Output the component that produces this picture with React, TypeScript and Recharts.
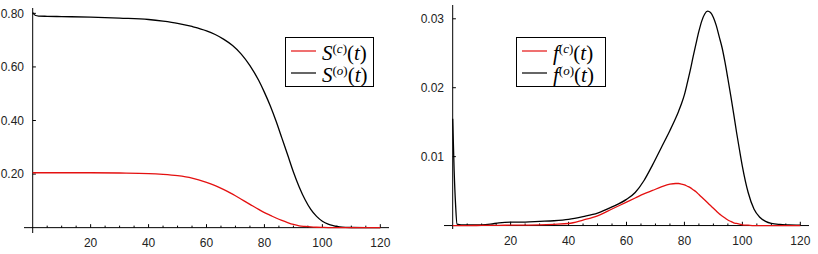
import { LineChart, Line, XAxis, YAxis, ReferenceLine, Legend } from "recharts";

// survival curves S(c)(t), S(o)(t)
const T_SURV = [0, 1, 2, 5, 10, 20, 30, 40, 45, 50, 55, 60, 63, 66, 69, 72, 75, 78, 80, 82, 84, 86, 88, 90, 92, 94, 96, 98, 100, 102, 104, 106, 108, 110, 115, 120];
const S_C = [0.205, 0.205, 0.205, 0.205, 0.205, 0.205, 0.204, 0.202, 0.199, 0.194, 0.185, 0.169, 0.157, 0.142, 0.125, 0.106, 0.087, 0.068, 0.056, 0.046, 0.036, 0.027, 0.019, 0.012, 0.007, 0.0045, 0.0025, 0.0014, 0.0008, 0.0004, 0.0001, 0, 0, 0, 0, 0];
const S_O = [0.803, 0.792, 0.79, 0.789, 0.788, 0.786, 0.782, 0.777, 0.771, 0.763, 0.751, 0.735, 0.721, 0.703, 0.68, 0.648, 0.605, 0.55, 0.505, 0.455, 0.398, 0.335, 0.272, 0.208, 0.152, 0.105, 0.068, 0.042, 0.024, 0.013, 0.007, 0.003, 0.0012, 0.0005, 0.0001, 0];

// densities f(c)(t), f(o)(t)
const T_DENS = [0, 0.5, 1, 1.5, 3, 5, 10, 13, 16, 20, 25, 30, 35, 40, 45, 50, 55, 60, 63, 66, 69, 72, 75, 77, 78, 79, 80, 81, 82, 83, 84, 85, 86, 87, 88, 89, 90, 91, 92, 93, 94, 95, 96, 97, 98, 99, 100, 102, 104, 106, 108, 110, 113, 116, 120];
const F_C = [0, 0, 0, 0, 0, 0, 0.00002, 0.00003, 0.00004, 0.00005, 0.00007, 0.0001, 0.00018, 0.0003, 0.0008, 0.0014, 0.0024, 0.0034, 0.004, 0.0046, 0.0051, 0.0056, 0.006, 0.0061, 0.0061, 0.006, 0.0059, 0.0057, 0.0055, 0.0052, 0.0049, 0.0045, 0.0041, 0.0037, 0.0033, 0.0029, 0.0025, 0.0021, 0.0017, 0.0014, 0.0011, 0.0008, 0.0006, 0.0004, 0.0003, 0.0002, 0.0001, 0.00005, 0, 0, 0, 0, 0, 0, 0];
const F_O = [0.0155, 0.008, 0.003, 0.0002, 0.0001, 0.0001, 0.0001, 0.0002, 0.0004, 0.0005, 0.0005, 0.0006, 0.0007, 0.0009, 0.0013, 0.0018, 0.0027, 0.0038, 0.0048, 0.0065, 0.0088, 0.0113, 0.0138, 0.0156, 0.0166, 0.0177, 0.019, 0.0207, 0.0225, 0.0245, 0.0264, 0.0282, 0.0297, 0.0307, 0.0311, 0.0309, 0.0302, 0.029, 0.0274, 0.0258, 0.0237, 0.0213, 0.0188, 0.0162, 0.0135, 0.011, 0.0086, 0.0048, 0.0024, 0.0012, 0.0006, 0.0003, 0.00015, 0.0001, 0.00005];

const X_TICKS = [20, 40, 60, 80, 100, 120];
const X_MINOR = [5, 10, 15, 20, 25, 30, 35, 40, 45, 50, 55, 60, 65, 70, 75, 80, 85, 90, 95, 100, 105, 110, 115, 120];
const S_TICKS = [0.2, 0.4, 0.6, 0.8];
const F_TICKS = [0.01, 0.02, 0.03];

const RED = "#e41010";
const BLACK = "#000000";

const survData = T_SURV.map((t, i) => ({ t, sc: S_C[i], so: S_O[i] }));
const densData = T_DENS.map((t, i) => ({ t, fc: F_C[i], fo: F_O[i] }));

const tickFont = { fontFamily: '"Liberation Sans", Arial, sans-serif', fontSize: 12, fill: "#222" };
const serif = '"Liberation Serif", "Times New Roman", serif';

const LABELS: Record<string, [string, string]> = {
  sc: ["S", "c"],
  so: ["S", "o"],
  fc: ["f", "c"],
  fo: ["f", "o"],
};
const ORDER = ["sc", "so", "fc", "fo"];

function LegendBox({ payload, width }: { payload?: any[]; width: number }) {
  const items = [...(payload ?? [])].sort(
    (a, b) => ORDER.indexOf(a.dataKey) - ORDER.indexOf(b.dataKey),
  );
  return (
    <div
      style={{
        position: "relative",
        width,
        height: 50,
        outline: "1px solid #000",
        outlineOffset: -1,
        background: "#fff",
        boxSizing: "border-box",
      }}
    >
      {items.map((it, i) => {
        const [base, sup] = LABELS[it.dataKey];
        return (
          <div key={it.dataKey}>
            <div
              style={{
                position: "absolute",
                left: 6,
                top: 13 + i * 22,
                width: 25,
                height: 2,
                background: it.color,
                opacity: 0.6,
              }}
            />
            <div
              style={{
                position: "absolute",
                left: 37,
                top: 5 + i * 22,
                height: 22,
                lineHeight: "22px",
                fontFamily: serif,
                fontSize: 21,
                whiteSpace: "nowrap",
                color: "#000",
              }}
            >
              <i>{base}</i>
              <span style={{ fontSize: 13, position: "relative", top: -7 }}>
                (<i>{sup}</i>)
              </span>
              (<i>t</i>)
            </div>
          </div>
        );
      })}
    </div>
  );
}

function axisMarks(minorLen: number, majorLen: number, yTicks: number[], yLen: number) {
  const marks = X_MINOR.map((t) => (
    <ReferenceLine
      key={"x" + t}
      segment={[
        { x: t, y: 0 },
        { x: t, y: t % 20 === 0 ? majorLen : minorLen },
      ]}
      stroke="#000"
      strokeWidth={1}
      ifOverflow="visible"
    />
  ));
  const ymarks = yTicks.map((v) => (
    <ReferenceLine
      key={"y" + v}
      segment={[
        { x: 0, y: v },
        { x: yLen, y: v },
      ]}
      stroke="#000"
      strokeWidth={1}
      ifOverflow="visible"
    />
  ));
  return [...marks, ...ymarks];
}

function SurvivalChart() {
  return (
    <LineChart
      width={400}
      height={254}
      data={survData}
      margin={{ top: 8, right: 11, bottom: 0, left: 0 }}
    >
      <XAxis
        dataKey="t"
        type="number"
        domain={[-3, 123]}
        ticks={X_TICKS}
        axisLine={false}
        tickLine={false}
        tickSize={0}
        tickMargin={5}
        height={21}
        tick={tickFont}
        allowDataOverflow
      />
      <YAxis
        type="number"
        domain={[-0.02, 0.82]}
        ticks={S_TICKS}
        axisLine={false}
        tickLine={false}
        tickSize={0}
        tickMargin={0}
        width={24}
        tick={tickFont}
        tickFormatter={(v: number) => v.toFixed(2)}
        allowDataOverflow
      />
      <ReferenceLine x={0} stroke="#000" strokeWidth={1} />
      <ReferenceLine y={0} stroke="#000" strokeWidth={1} />
      {axisMarks(0.0075, 0.013, S_TICKS, 1.1)}
      <Line type="monotone" dataKey="so" name="S(o)(t)" stroke={BLACK} strokeWidth={1.3} dot={false} isAnimationActive={false} />
      <Line type="monotone" dataKey="sc" name="S(c)(t)" stroke={RED} strokeWidth={1.3} dot={false} isAnimationActive={false} />
      <Legend
        layout="vertical"
        align="center"
        verticalAlign="middle"
        wrapperStyle={{ left: 285, top: 37, width: 89, height: 50 }}
        content={(p: any) => <LegendBox payload={p.payload} width={89} />}
      />
    </LineChart>
  );
}

function DensityChart() {
  return (
    <LineChart
      width={400}
      height={254}
      data={densData}
      margin={{ top: 5, right: 9, bottom: 0, left: 0 }}
    >
      <XAxis
        dataKey="t"
        type="number"
        domain={[-3, 123]}
        ticks={X_TICKS}
        axisLine={false}
        tickLine={false}
        tickSize={0}
        tickMargin={7}
        height={25}
        tick={tickFont}
        allowDataOverflow
      />
      <YAxis
        type="number"
        domain={[-0.0005, 0.032]}
        ticks={F_TICKS}
        axisLine={false}
        tickLine={false}
        tickSize={0}
        tickMargin={0}
        width={26}
        tick={tickFont}
        tickFormatter={(v: number) => v.toFixed(2)}
        allowDataOverflow
      />
      <ReferenceLine x={0} stroke="#000" strokeWidth={1} />
      <ReferenceLine y={0} stroke="#000" strokeWidth={1} />
      {axisMarks(0.0003, 0.00055, F_TICKS, 1.1)}
      <Line type="monotone" dataKey="fo" name="f(o)(t)" stroke={BLACK} strokeWidth={1.3} dot={false} isAnimationActive={false} />
      <Line type="monotone" dataKey="fc" name="f(c)(t)" stroke={RED} strokeWidth={1.3} dot={false} isAnimationActive={false} />
      <Legend
        layout="vertical"
        align="center"
        verticalAlign="middle"
        wrapperStyle={{ left: 98, top: 37, width: 90, height: 50 }}
        content={(p: any) => <LegendBox payload={p.payload} width={90} />}
      />
    </LineChart>
  );
}

export default function App() {
  return (
    <div
      style={{
        position: "absolute",
        left: 0,
        top: 0,
        width: 818,
        height: 254,
        background: "#fff",
        overflow: "hidden",
      }}
    >
      <div style={{ position: "absolute", left: 0, top: 0 }}>
        <SurvivalChart />
      </div>
      <div style={{ position: "absolute", left: 418, top: 0 }}>
        <DensityChart />
      </div>
    </div>
  );
}
